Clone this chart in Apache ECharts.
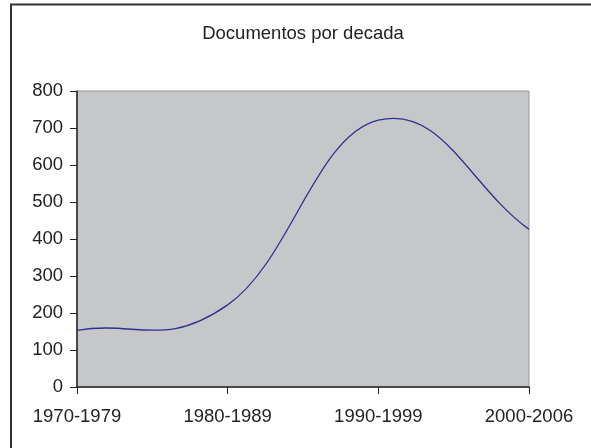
<!DOCTYPE html>
<html lang="es" style="height: 100%">
<head>
  <meta charset="utf-8">
</head>
<body style="height: 100%; margin: 0; background: #fff">
  <div id="container" style="width: 591px; height: 448px"></div>

  <script type="text/javascript" src="https://cdn.jsdelivr.net/npm/echarts@6/dist/echarts.min.js"></script>
  <script type="text/javascript">
    // decades and documents per decade
    var decadas = ['1970-1979', '1980-1989', '1990-1999', '2000-2006'];
    var documentos = [153, 222, 721, 426];

    var dom = document.getElementById('container');
    var myChart = echarts.init(dom, null, { renderer: 'canvas' });

    // Excel-style smoothed line: one bezier segment per pair of points,
    // inner control points from the neighbours, end ones along the chord
    function renderSegment(params, api) {
      var i = params.dataIndex;
      var n = documentos.length;
      if (i >= n - 1) return null;
      function pt(j) {
        return api.coord([j, documentos[j]]);
      }
      var p1 = pt(i), p2 = pt(i + 1);
      var k = 0.21;
      var t1, t2;
      if (i === 0) {
        t1 = [(p2[0] - p1[0]) * 0.4, (p2[1] - p1[1]) * 0.4];
      } else {
        var p0 = pt(i - 1);
        t1 = [(p2[0] - p0[0]) * k, (p2[1] - p0[1]) * k];
      }
      if (i + 2 > n - 1) {
        t2 = [(p2[0] - p1[0]) * 0.4, (p2[1] - p1[1]) * 0.4];
      } else {
        var p3 = pt(i + 2);
        t2 = [(p3[0] - p1[0]) * k, (p3[1] - p1[1]) * k];
      }
      return {
        type: 'bezierCurve',
        shape: {
          x1: p1[0], y1: p1[1],
          x2: p2[0], y2: p2[1],
          cpx1: p1[0] + t1[0], cpy1: p1[1] + t1[1],
          cpx2: p2[0] - t2[0], cpy2: p2[1] - t2[1]
        },
        style: { fill: null, stroke: '#2E3192', lineWidth: 1.3 }
      };
    }

    var option = {
      animation: false,
      textStyle: { fontFamily: 'Liberation Sans, Arial, sans-serif' },
      title: {
        text: 'Documentos por decada',
        left: 298,
        textAlign: 'center',
        top: 19,
        textStyle: { fontSize: 18.5, fontWeight: 'normal', color: '#222' }
      },
      graphic: [{
        type: 'rect',
        shape: { x: 11, y: 4.5, width: 620, height: 500 },
        style: { fill: 'none', stroke: '#333', lineWidth: 2 },
        silent: true
      }],
      grid: {
        left: 77, right: 62, top: 91, bottom: 61,
        show: true,
        backgroundColor: '#C6C7C9',
        borderColor: '#999',
        borderWidth: 1
      },
      xAxis: {
        type: 'category',
        data: decadas,
        boundaryGap: false,
        axisLine: { lineStyle: { color: '#222', width: 1.5 } },
        axisTick: { length: 7, lineStyle: { color: '#222' } },
        axisLabel: { fontSize: 18.5, color: '#222', margin: 20 },
        splitLine: { show: false }
      },
      yAxis: {
        type: 'value',
        min: 0, max: 800, interval: 100,
        axisLine: { show: true, lineStyle: { color: '#222', width: 1.5 } },
        axisTick: { show: true, length: 7, lineStyle: { color: '#222' } },
        axisLabel: { fontSize: 18.5, color: '#222', margin: 14 },
        splitLine: { show: false }
      },
      series: [{
        type: 'custom',
        coordinateSystem: 'cartesian2d',
        data: documentos.map(function (v, i) { return [i, v]; }),
        encode: { x: 0, y: 1 },
        renderItem: renderSegment
      }]
    };

    myChart.setOption(option);
    window.addEventListener('resize', myChart.resize);
  </script>
</body>
</html>
